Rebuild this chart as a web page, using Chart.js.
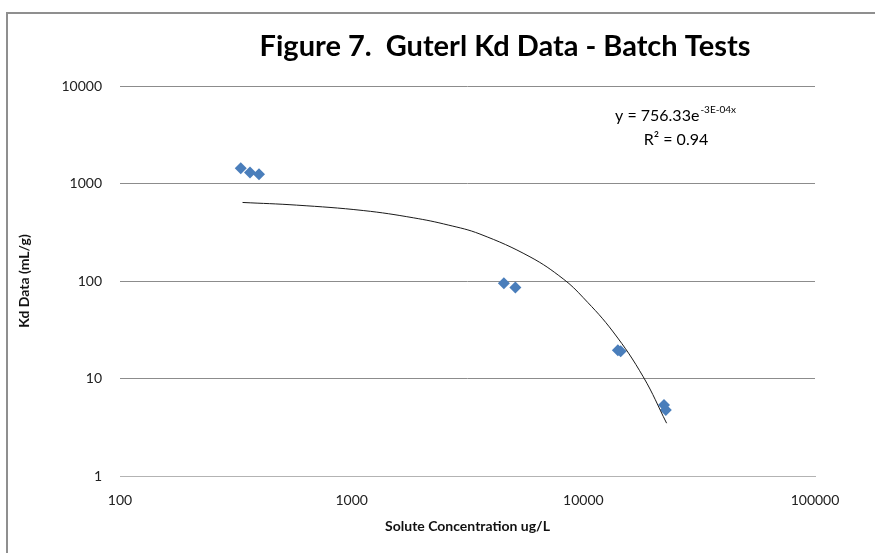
<!DOCTYPE html>
<html>
<head>
<meta charset="utf-8">
<script src="https://cdn.jsdelivr.net/npm/chart.js@4.4.0/dist/chart.umd.min.js"></script>
<style>
  html, body { margin: 0; padding: 0; background: #fff; }
</style>
</head>
<body>
<canvas id="chart" width="875" height="553"></canvas>
<script>
// measured batch test points
const concentration = [332, 364, 398, 4540, 5090, 14100, 14500, 22300, 22700];
const kd = [1430, 1300, 1245, 95, 86, 19.5, 19, 5.35, 4.75];

// exponential trendline
const trendX = [338, 579, 1122, 1845, 2612, 3579, 5884, 8190, 9991, 13460, 18140, 22880];
const trendY = [639, 600, 528, 445, 375, 303, 177, 105, 67.5, 30, 10.4, 3.48];

const xTicks = [100, 1000, 10000, 100000];
const yTicks = [1, 10, 100, 1000, 10000];

const chartTitle = 'Figure 7.  Guterl Kd Data - Batch Tests';
const equation = 'y = 756.33e';
const equationExp = '-3E-04x';
const rSquared = 'R\u00B2 = 0.94';

const frameAndText = {
    id: 'frameAndText',
    beforeDraw(chart) {
        const ctx = chart.ctx;
        ctx.save();
        ctx.fillStyle = '#fff';
        ctx.fillRect(0, 0, chart.width, chart.height);
        ctx.strokeStyle = '#8f8f8f';
        ctx.lineWidth = 2;
        ctx.beginPath();
        ctx.moveTo(7, chart.height);
        ctx.lineTo(7, 13);
        ctx.lineTo(chart.width, 13);
        ctx.stroke();
        ctx.restore();
    },
    afterDraw(chart) {
        const ctx = chart.ctx;
        ctx.save();
        ctx.fillStyle = '#000';
        ctx.textBaseline = 'middle';
        ctx.textAlign = 'center';
        ctx.font = 'bold 29px Lato';
        ctx.fillText(chartTitle, 505, 47);

        ctx.textAlign = 'left';
        ctx.font = '16px Lato';
        const wb = ctx.measureText(equation).width;
        ctx.font = '10px Lato';
        const ws = ctx.measureText(equationExp).width;
        const start = 675 - (wb + ws) / 2;
        ctx.font = '16px Lato';
        ctx.fillText(equation, start, 116);
        ctx.font = '10px Lato';
        ctx.fillText(equationExp, start + wb + 1, 110);

        ctx.textAlign = 'center';
        ctx.font = '16px Lato';
        ctx.fillText(rSquared, 676, 140);
        ctx.restore();
    },
};

const tickFont = { family: 'Lato', size: 14 };
const titleFont = { family: 'Lato', size: 14, weight: 'bold' };

const config = {
    type: 'scatter',
    data: {
        datasets: [
            {
                type: 'line',
                label: 'Trend',
                data: trendX.map((x, i) => ({ x: x, y: trendY[i] })),
                borderColor: '#1a1a1a',
                borderWidth: 1,
                pointRadius: 0,
                tension: 0.4,
                fill: false,
            },
            {
                label: 'Kd',
                data: concentration.map((x, i) => ({ x: x, y: kd[i] })),
                pointStyle: 'rectRot',
                pointRadius: 6,
                backgroundColor: '#4a7ebb',
                borderColor: '#4a7ebb',
                borderWidth: 0,
            },
        ],
    },
    options: {
        responsive: false,
        animation: false,
        devicePixelRatio: 1,
        layout: {
            padding: { left: 0, right: 60, top: 86, bottom: 0 },
        },
        plugins: {
            legend: { display: false },
            tooltip: { enabled: false },
        },
        scales: {
            x: {
                type: 'logarithmic',
                min: 100,
                max: 100000,
                afterBuildTicks: scale => {
                    scale.ticks = xTicks.map(v => ({ value: v }));
                },
                afterFit: scale => {
                    scale.height = 77;
                },
                grid: { display: false },
                border: { display: true, color: '#b3b3b3', width: 1 },
                ticks: {
                    font: tickFont,
                    color: '#222',
                    padding: 8,
                    maxRotation: 0,
                    autoSkip: false,
                    callback: v => String(v),
                },
                title: {
                    display: true,
                    text: 'Solute Concentration ug/L',
                    font: titleFont,
                    color: '#111',
                    padding: { top: 0, bottom: 18 },
                },
            },
            y: {
                type: 'logarithmic',
                min: 1,
                max: 10000,
                afterBuildTicks: scale => {
                    scale.ticks = yTicks.map(v => ({ value: v }));
                },
                afterFit: scale => {
                    scale.width = 120;
                },
                grid: {
                    drawTicks: false,
                    color: ctx => (ctx.tick && ctx.tick.value === 1 ? '#b3b3b3' : '#8c8c8c'),
                    lineWidth: 1,
                },
                border: { display: false },
                ticks: {
                    font: tickFont,
                    color: '#222',
                    padding: 18,
                    autoSkip: false,
                    callback: v => String(v),
                },
                title: {
                    display: true,
                    text: 'Kd Data (mL/g)',
                    font: titleFont,
                    color: '#111',
                    padding: { top: 16, bottom: 0 },
                },
            },
        },
    },
    plugins: [frameAndText],
};

const element = document.getElementById('chart');
const chart = new Chart(element, config);
</script>
</body>
</html>
